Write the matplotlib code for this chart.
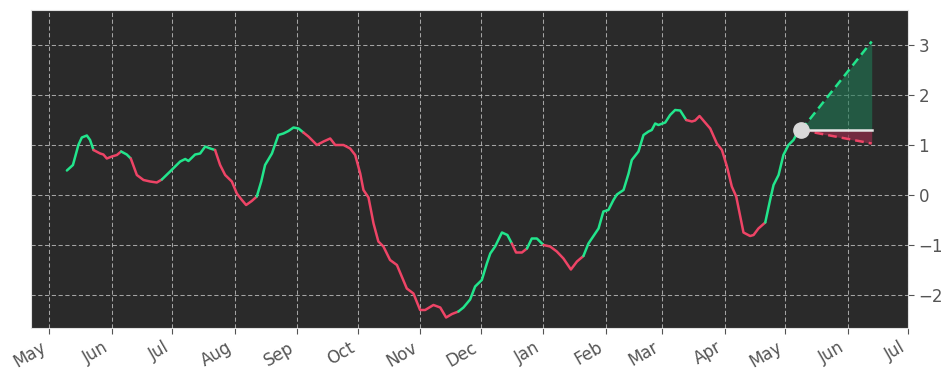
import numpy as np
import pandas as pd
import matplotlib
matplotlib.use("Agg")
import matplotlib.pyplot as plt
import matplotlib.dates as mdates

# ---------------- data ----------------
start_date = "2022-05-01"
# day offsets from start_date
days = [8.8, 11.8, 14.5, 16.2, 18.7, 20.3, 22.0, 25.3, 26.9, 28.6, 31.1, 33.6, 35.7,
        38.5, 40.5, 43.5, 46.8, 50.1, 53.4, 55.9, 60.0, 65.0, 67.5, 69.1, 72.4, 74.9,
        77.4, 79.9, 82.3, 84.8, 87.3, 90.6, 93.1, 95.6, 97.7, 100.5, 103.0, 105.2,
        107.1, 110.5, 113.7, 116.2, 118.7, 121.2, 123.7, 126.1, 128.6, 132.8, 136.1,
        139.4, 141.9, 146.0, 149.3, 151.8, 154.3, 155.9, 158.4, 160.9, 163.3, 165.8,
        169.1, 172.5, 174.9, 177.4, 180.7, 184.0, 186.5, 190.6, 194.0, 196.9, 199.8,
        203.0, 205.5, 208.8, 211.3, 214.6, 217.1, 218.8, 221.2, 224.6, 227.3, 229.5,
        231.6, 234.5, 237.0, 239.4, 241.9, 245.2, 248.5, 251.8, 255.1, 258.8, 261.8,
        265.0, 267.5, 270.0, 272.5, 274.9, 277.4, 279.9, 281.6, 284.9, 287.4, 289.0,
        292.3, 294.8, 297.3, 298.9, 300.6, 302.2, 305.6, 308.0, 310.5, 313.0, 316.0,
        318.8, 320.4, 322.6, 324.5, 327.9, 331.2, 333.7, 336.2, 338.6, 340.8, 342.8,
        344.4, 347.7, 349.4, 351.8, 355.2, 357.6, 359.3, 361.8, 364.2, 366.7, 369.2,
        370.9, 373.0]
values = [0.49, 0.60, 1.00, 1.15, 1.19, 1.10, 0.90, 0.83, 0.81, 0.73, 0.77, 0.80, 0.87,
          0.81, 0.73, 0.40, 0.30, 0.27, 0.25, 0.31, 0.47, 0.67, 0.72, 0.68, 0.81, 0.83,
          0.97, 0.93, 0.90, 0.60, 0.40, 0.27, 0.03, -0.10, -0.20, -0.12, -0.03, 0.27,
          0.60, 0.83, 1.20, 1.23, 1.28, 1.35, 1.33, 1.25, 1.17, 1.00, 1.07,
          1.13, 1.00, 1.00, 0.93, 0.80, 0.43, 0.10, -0.05, -0.57, -0.93, -1.03,
          -1.30, -1.40, -1.63, -1.87, -1.97, -2.30, -2.30, -2.20, -2.25, -2.45, -2.38,
          -2.33, -2.25, -2.09, -1.83, -1.70, -1.37, -1.17, -1.03, -0.75, -0.80, -0.97,
          -1.15, -1.15, -1.07, -0.87, -0.87, -1.00, -1.03, -1.13, -1.27, -1.49, -1.33,
          -1.22, -0.97, -0.82, -0.67, -0.33, -0.30, -0.10, 0.01, 0.10, 0.43, 0.70,
          0.87, 1.20, 1.27, 1.30, 1.43, 1.40, 1.45, 1.60, 1.70, 1.69, 1.50,
          1.47, 1.49, 1.58, 1.49, 1.33, 1.03, 0.90, 0.57, 0.17, -0.03, -0.43,
          -0.75, -0.82, -0.80, -0.67, -0.55, -0.10, 0.20, 0.40, 0.80, 1.00, 1.10,
          1.23, 1.30]
# trend regimes: day offset where each regime begins, and whether it is rising
regime_start = [0, 21.3, 35.7, 40.7, 56.0, 82.8, 103.7, 126.0, 204.0, 228.7, 237.4,
                245.0, 265.4, 316.0, 355.2]
regime_up = [True, False, True, False, True, False, True, False, True, False, True,
             False, True, False, True]

# forecast
forecast_end_day = 408
forecast_base = 1.30
forecast_high = 3.07
forecast_low = 1.03

# ---------------- styling ----------------
GREEN = "#22e58c"
RED = "#ee4466"
BG = "#2a2a2a"

t0 = pd.Timestamp(start_date)
dates = t0 + pd.to_timedelta(np.array(days), unit="D")
vals = np.array(values)

fig = plt.figure(figsize=(9.52, 3.81), dpi=100)
ax = fig.add_axes([31 / 952, 53 / 381, (908 - 31) / 952, (328 - 10) / 381])
ax.set_facecolor(BG)


def is_up(d):
    idx = np.searchsorted(regime_start, d, side="right") - 1
    return regime_up[max(idx, 0)]


# group consecutive segments of same colour
seg_up = [is_up((days[i] + days[i + 1]) / 2) for i in range(len(days) - 1)]
i = 0
while i < len(seg_up):
    j = i
    while j + 1 < len(seg_up) and seg_up[j + 1] == seg_up[i]:
        j += 1
    ax.plot(dates[i:j + 2], vals[i:j + 2], color=GREEN if seg_up[i] else RED,
            lw=1.8, solid_capstyle="round", solid_joinstyle="round", zorder=3)
    i = j + 1

# forecast cone
f_start = dates[-1]
f_end = t0 + pd.Timedelta(days=forecast_end_day)
fx = [f_start, f_end]
ax.fill_between(fx, [forecast_base, forecast_base], [forecast_base, forecast_high],
                color="#1f7a55", alpha=0.6, lw=0, zorder=2)
ax.fill_between(fx, [forecast_low, forecast_low], [forecast_base, forecast_base],
                where=None, color="#2a2a2a", alpha=0.0, lw=0, zorder=1)
ax.fill_between(fx, [forecast_base, forecast_low], [forecast_base, forecast_base],
                color="#8c2c48", alpha=0.75, lw=0, zorder=2)
ax.plot(fx, [forecast_base, forecast_high], color=GREEN, lw=1.8, ls=(0, (3.5, 2)), zorder=4)
ax.plot(fx, [forecast_base, forecast_low], color=RED, lw=1.8, ls=(0, (3.5, 2)), zorder=4)
ax.plot(fx, [forecast_base, forecast_base], color="#e6e6e6", lw=1.8, zorder=4)
ax.plot([f_start], [forecast_base], "o", color="#d9d9d9", ms=11, zorder=5)

# axes limits & ticks
ax.set_xlim(pd.Timestamp("2022-04-22"), pd.Timestamp("2023-07-01"))
ax.set_ylim(-2.66, 3.7)
ax.xaxis.set_major_locator(mdates.MonthLocator())
ax.xaxis.set_major_formatter(mdates.DateFormatter("%b"))
ax.yaxis.tick_right()
ax.set_yticks([-2, -1, 0, 1, 2, 3])
ax.grid(True, color="#bbbbbb", ls=(0, (4, 2.5)), lw=0.75, alpha=0.85)
ax.set_axisbelow(True)
for lbl in ax.get_xticklabels():
    lbl.set_rotation(30)
    lbl.set_ha("right")
ax.tick_params(axis="both", colors="#555555", labelsize=12, length=4, width=0.8)
for s in ax.spines.values():
    s.set_color("#e0e0e0")
    s.set_linewidth(0.8)

fig.savefig("out.png", dpi=100, facecolor="white")
